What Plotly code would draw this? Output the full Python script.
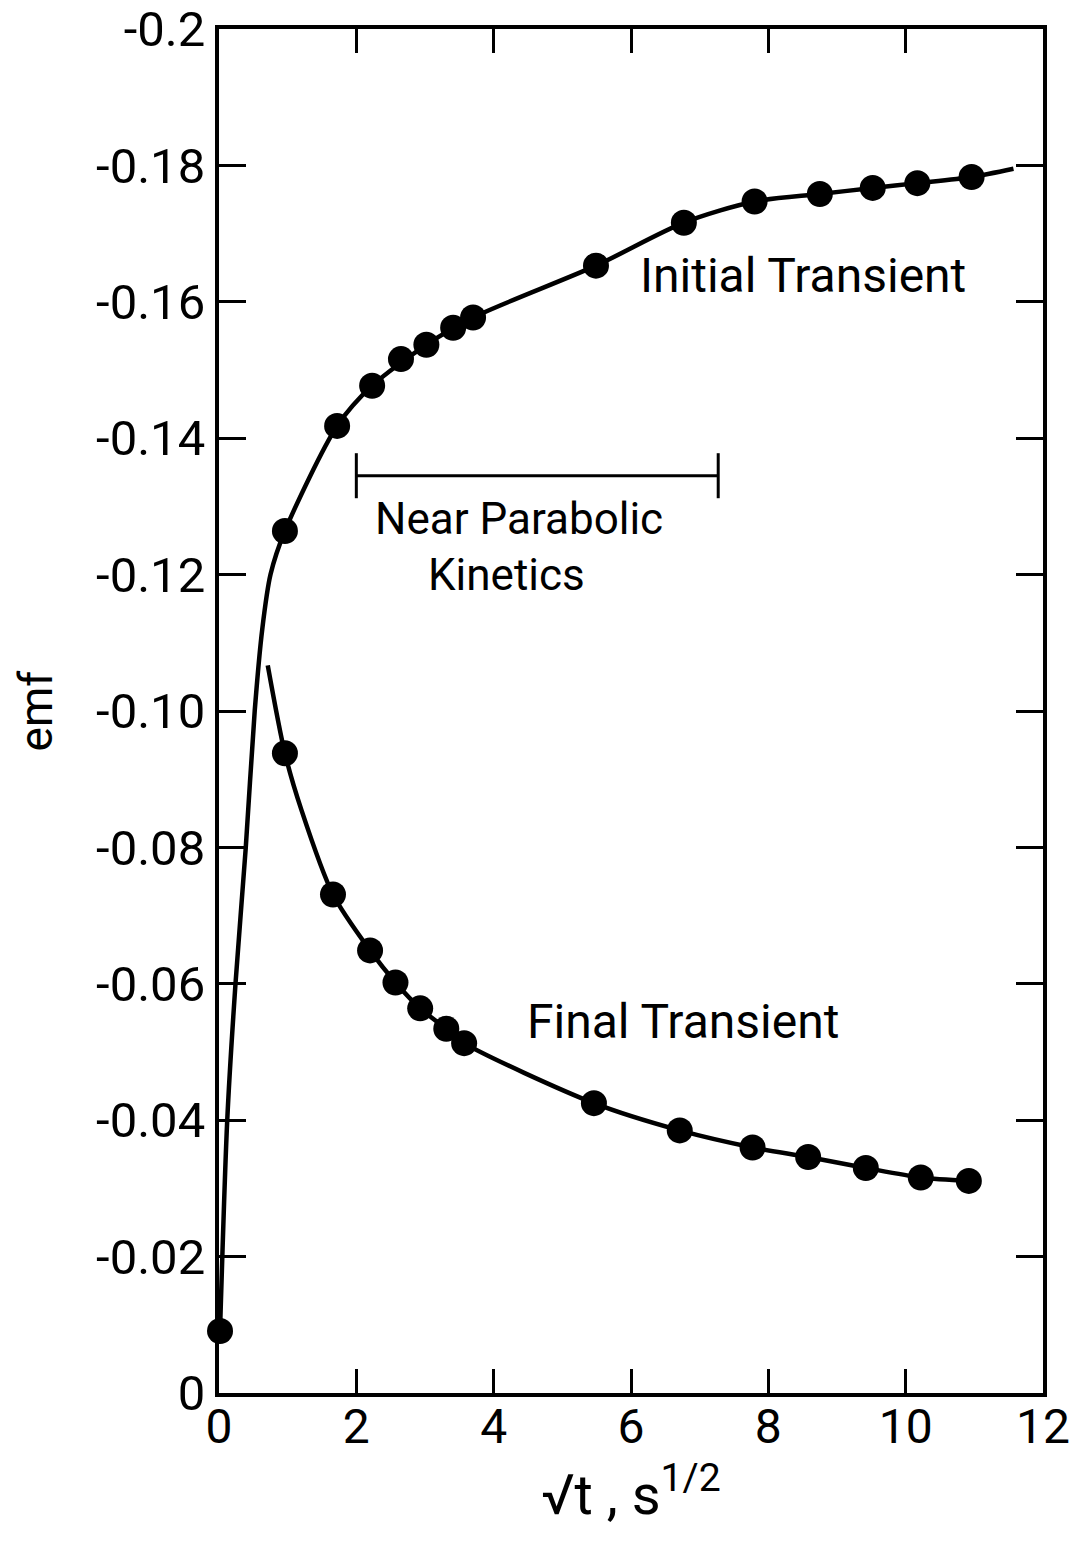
import plotly.graph_objects as go

# ---- data ----
init_x = [0.015, 0.96, 1.72, 2.23, 2.65, 3.02, 3.41, 3.70, 5.49, 6.77, 7.80, 8.75, 9.52, 10.17, 10.96]
init_y = [-0.0091, -0.1264, -0.1418, -0.1477, -0.1516, -0.1537, -0.1562, -0.1577, -0.1653, -0.1716,
          -0.1747, -0.1758, -0.1767, -0.1774, -0.1783]

final_x = [0.96, 1.66, 2.20, 2.57, 2.93, 3.31, 3.57, 5.46, 6.71, 7.77, 8.58, 9.42, 10.22, 10.92]
final_y = [-0.0938, -0.0731, -0.0649, -0.0602, -0.0564, -0.0534, -0.0513, -0.0425, -0.0385, -0.0360,
           -0.0346, -0.0330, -0.0316, -0.0311]

# hand-drawn fitted curves
init_curve_x = [0.015, 0.12, 0.24, 0.39, 0.52, 0.63, 0.75, 0.96, 1.72, 2.23, 3.02, 3.70, 5.49, 6.77,
                7.80, 8.75, 9.52, 10.17, 10.96, 11.57]
init_curve_y = [-0.0091, -0.040, -0.060, -0.080, -0.100, -0.112, -0.120, -0.1264, -0.1418, -0.1477,
                -0.1537, -0.1577, -0.1653, -0.1716, -0.1747, -0.1758, -0.1767, -0.1774, -0.1783, -0.1795]

final_curve_x = [0.71, 0.96, 1.20, 1.66, 2.20, 2.57, 2.93, 3.31, 3.57, 5.46, 6.71, 7.77, 8.58, 9.42,
                 10.22, 10.92]
final_curve_y = [-0.1067, -0.0938, -0.0855, -0.0731, -0.0649, -0.0602, -0.0564, -0.0534, -0.0513,
                 -0.0425, -0.0385, -0.0360, -0.0346, -0.0330, -0.0316, -0.0311]

# "Near Parabolic Kinetics" range bar
bar_x = [2.0, 7.27]
bar_y = -0.1345
bar_cap = 0.0033

x_ticks = [0, 2, 4, 6, 8, 10, 12]
x_labels = ["0", "2", "4", "6", "8", "10", "12"]
y_ticks = [0, -0.02, -0.04, -0.06, -0.08, -0.10, -0.12, -0.14, -0.16, -0.18, -0.2]
y_labels = ["0", "-0.02", "-0.04", "-0.06", "-0.08", "-0.10", "-0.12", "-0.14", "-0.16", "-0.18", "-0.2"]

FONT = "Roboto, DejaVu Sans, sans-serif"
BLACK = "#000000"

fig = go.Figure()

fig.add_trace(go.Scatter(x=init_curve_x, y=init_curve_y, mode="lines",
                         line=dict(color=BLACK, width=4.5, shape="spline", smoothing=0.8),
                         hoverinfo="skip", cliponaxis=False))
fig.add_trace(go.Scatter(x=final_curve_x, y=final_curve_y, mode="lines",
                         line=dict(color=BLACK, width=4.5, shape="spline", smoothing=0.8),
                         hoverinfo="skip", cliponaxis=False))
fig.add_trace(go.Scatter(x=init_x, y=init_y, mode="markers",
                         marker=dict(color=BLACK, size=26, line=dict(width=0)),
                         cliponaxis=False, name="Initial Transient"))
fig.add_trace(go.Scatter(x=final_x, y=final_y, mode="markers",
                         marker=dict(color=BLACK, size=26, line=dict(width=0)),
                         cliponaxis=False, name="Final Transient"))

# range bar with end caps
fig.add_trace(go.Scatter(
    x=[bar_x[0], bar_x[1], None, bar_x[0], bar_x[0], None, bar_x[1], bar_x[1]],
    y=[bar_y, bar_y, None, bar_y - bar_cap, bar_y + bar_cap, None, bar_y - bar_cap, bar_y + bar_cap],
    mode="lines", line=dict(color=BLACK, width=3), hoverinfo="skip"))

fig.add_annotation(x=8.5, y=-0.1638, text="Initial Transient", showarrow=False,
                   font=dict(family=FONT, size=48, color=BLACK), xanchor="center", yanchor="middle")
fig.add_annotation(x=6.75, y=-0.0544, text="Final Transient", showarrow=False,
                   font=dict(family=FONT, size=48, color=BLACK), xanchor="center", yanchor="middle")
fig.add_annotation(x=4.37, y=-0.1281, text="Near Parabolic", showarrow=False,
                   font=dict(family=FONT, size=44, color=BLACK), xanchor="center", yanchor="middle")
fig.add_annotation(x=4.18, y=-0.1199, text="Kinetics", showarrow=False,
                   font=dict(family=FONT, size=44, color=BLACK), xanchor="center", yanchor="middle")

fig.update_layout(
    width=1078, height=1542,
    margin=dict(l=219, r=35, t=29, b=149),
    paper_bgcolor="white", plot_bgcolor="white",
    showlegend=False,
    font=dict(family=FONT, color=BLACK),
)

fig.update_xaxes(
    range=[0, 12], tickvals=x_ticks, ticktext=x_labels,
    ticks="inside", ticklen=24, tickwidth=3, tickcolor=BLACK,
    showline=True, linewidth=4, linecolor=BLACK, mirror="allticks",
    showgrid=False, zeroline=False, automargin=False,
    tickfont=dict(family=FONT, size=48, color=BLACK), ticklabelstandoff=-12,
    title=dict(text="√t , s<sup>1/2</sup>",
               font=dict(family=FONT, size=56, color=BLACK), standoff=8),
)
fig.update_yaxes(
    range=[0, -0.2], tickvals=y_ticks, ticktext=y_labels,
    ticks="inside", ticklen=27, tickwidth=3, tickcolor=BLACK,
    showline=True, linewidth=4, linecolor=BLACK, mirror="allticks",
    showgrid=False, zeroline=False, automargin=False,
    tickfont=dict(family=FONT, size=49, color=BLACK),
    title=dict(text="emf", font=dict(family=FONT, size=46, color=BLACK), standoff=30),
)

fig.write_html("out.html")
